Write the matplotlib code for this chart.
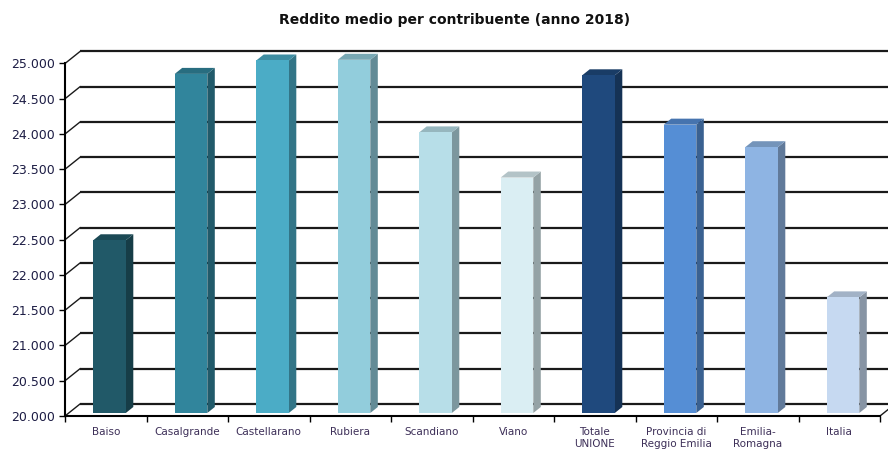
import matplotlib
matplotlib.use('Agg')
import matplotlib.pyplot as plt
from matplotlib.patches import Polygon
from matplotlib.ticker import FuncFormatter
from matplotlib.transforms import ScaledTranslation
import matplotlib.colors as mcolors

# Data
comuni = ['Baiso', 'Casalgrande', 'Castellarano', 'Rubiera', 'Scandiano', 'Viano',
          'Totale\nUNIONE', 'Provincia di\nReggio Emilia', 'Emilia-\nRomagna', 'Italia']
reddito = [22450, 24810, 25000, 25010, 23980, 23340, 24790, 24090, 23770, 21640]
colori = ['#215968', '#31859C', '#4BACC6', '#92CDDC', '#B7DEE8', '#DAEEF3',
          '#1F497D', '#558ED5', '#8EB4E3', '#C6D9F1']
y_ticks = list(range(20000, 25001, 500))

# fake 3d depth, in pixels (figure is saved at 100 dpi)
DEPTH_X, DEPTH_Y = 15, 12
BAR_FRONT = 0.25
BAR_BACK = 0.75


def shade(c, f):
    r, g, b = mcolors.to_rgb(c)
    return (r * f, g * f, b * f)


fig = plt.figure(figsize=(8.88, 4.5), dpi=100)
ax = fig.add_axes([65 / 888, 34 / 450, 815 / 888, 352.5 / 450])
ax.set_xlim(-0.5, len(comuni) - 0.5)
ax.set_ylim(20000, 25000)


def off(x, y, px, py):
    # move a data point by a pixel offset, back into data coords
    d = ax.transData.transform((x, y))
    return ax.transData.inverted().transform((d[0] + px, d[1] + py))


back = ax.transData + ScaledTranslation(DEPTH_X / 100, DEPTH_Y / 100, fig.dpi_scale_trans)
x0, x1 = ax.get_xlim()

# back wall gridlines and the slanted lines to the front axis
for yv in y_ticks:
    ax.plot([x0, x1 + 0.3], [yv, yv], color='#1a1a1a', lw=1.6, transform=back,
            clip_on=False, zorder=1, solid_capstyle='butt')
    p = off(x0, yv, DEPTH_X, DEPTH_Y)
    ax.plot([x0, p[0]], [yv, p[1]], color='#1a1a1a', lw=1.0, clip_on=False, zorder=1)
p = off(x1, 20000, DEPTH_X, DEPTH_Y)
ax.plot([x1, p[0]], [20000, p[1]], color='#1a1a1a', lw=1.0, clip_on=False, zorder=1)

# columns
w = 0.4
for i, (v, c) in enumerate(zip(reddito, colori)):
    fx, fy = BAR_FRONT * DEPTH_X, BAR_FRONT * DEPTH_Y
    bx, by = BAR_BACK * DEPTH_X, BAR_BACK * DEPTH_Y
    l, r = i - w / 2, i + w / 2
    front = [off(l, 20000, fx, fy), off(r, 20000, fx, fy), off(r, v, fx, fy), off(l, v, fx, fy)]
    side = [off(r, 20000, fx, fy), off(r, 20000, bx, by), off(r, v, bx, by), off(r, v, fx, fy)]
    top = [off(l, v, fx, fy), off(r, v, fx, fy), off(r, v, bx, by), off(l, v, bx, by)]
    ax.add_patch(Polygon(side, closed=True, facecolor=shade(c, 0.68), edgecolor='none',
                         clip_on=False, zorder=3))
    ax.add_patch(Polygon(top, closed=True, facecolor=shade(c, 0.82), edgecolor='none',
                         clip_on=False, zorder=3))
    ax.add_patch(Polygon(front, closed=True, facecolor=c, edgecolor='none',
                         clip_on=False, zorder=4))

# axes
for s in ['top', 'right']:
    ax.spines[s].set_visible(False)
for s in ['left', 'bottom']:
    ax.spines[s].set_color('black')
    ax.spines[s].set_linewidth(1.5)

ax.set_yticks(y_ticks)
ax.yaxis.set_major_formatter(FuncFormatter(lambda v, pos: f'{int(v):,}'.replace(',', '.')))
ax.tick_params(axis='y', length=4, width=1, labelsize=9, labelcolor='#1c1c44', pad=3)

ax.set_xticks(range(len(comuni)))
ax.set_xticklabels(comuni, fontsize=7.5, color='#3d2f58', linespacing=1.25)
ax.set_xticks([i - 0.5 for i in range(len(comuni) + 1)], minor=True)
ax.tick_params(axis='x', which='major', length=0, pad=8)
ax.tick_params(axis='x', which='minor', length=4, width=1, direction='out')

fig.text(0.512, 0.955, 'Reddito medio per contribuente (anno 2018)', ha='center', va='center',
         fontsize=10, fontweight='bold', color='#111111')

fig.savefig('out.png', dpi=100)
